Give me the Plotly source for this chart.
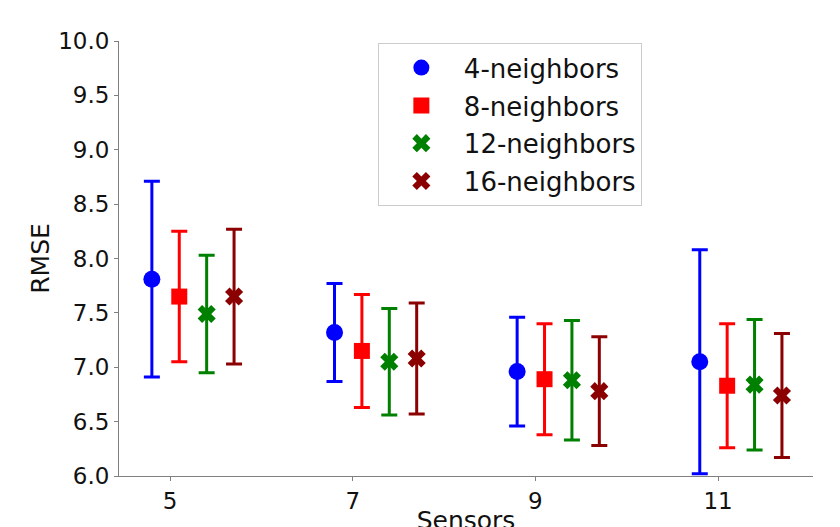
import plotly.graph_objects as go

sensors = [5, 7, 9, 11]
series_names = ["4-neighbors", "8-neighbors", "12-neighbors", "16-neighbors"]
rmse_4 = [7.81, 7.32, 6.96, 7.05]
err_4 = [0.90, 0.45, 0.50, 1.03]
rmse_8 = [7.65, 7.15, 6.89, 6.83]
err_8 = [0.60, 0.52, 0.51, 0.57]
rmse_12 = [7.49, 7.05, 6.88, 6.84]
err_12 = [0.54, 0.49, 0.55, 0.60]
rmse_16 = [7.65, 7.08, 6.78, 6.74]
err_16 = [0.62, 0.51, 0.50, 0.57]
y_ticks = [6.0, 6.5, 7.0, 7.5, 8.0, 8.5, 9.0, 9.5, 10.0]

values = [rmse_4, rmse_8, rmse_12, rmse_16]
errors = [err_4, err_8, err_12, err_16]
colors = ["#0000ff", "#ff0000", "#008000", "#8b0000"]
symbols = ["circle", "square", "x", "x"]
sizes = [17, 16, 16, 16]

FONT = "DejaVu Sans"
fig = go.Figure()
for i, name in enumerate(series_names):
    off = -0.2 + 0.3 * i
    fig.add_trace(go.Scatter(
        x=[s + off for s in sensors], y=values[i], name=name, mode="markers",
        legendgroup=name, showlegend=False,
        marker=dict(color=colors[i], symbol=symbols[i], size=sizes[i], line=dict(width=0)),
        error_y=dict(type="data", array=errors[i], visible=True, color=colors[i],
                     thickness=3, width=8),
    ))
# legend entries (larger legend symbols, as in the reference)
for i, name in enumerate(series_names):
    fig.add_trace(go.Scatter(
        x=[None], y=[None], name=name, mode="markers", legendgroup=name, showlegend=True,
        marker=dict(color=colors[i], symbol=symbols[i], size=22, line=dict(width=0)),
    ))

fig.update_layout(
    width=840, height=527,
    margin=dict(l=111, r=35, t=33, b=59),
    paper_bgcolor="white", plot_bgcolor="white",
    font=dict(family=FONT, color="black", size=23),
    showlegend=True,
    legend=dict(x=0.373, y=0.995, xanchor="left", yanchor="top",
                bgcolor="white", bordercolor="#cccccc", borderwidth=1,
                font=dict(family=FONT, size=26, color="#111111"),
                itemsizing="trace", itemwidth=75, tracegroupgap=1,
                traceorder="grouped"),
    xaxis=dict(range=[4.44, 12.04], tickvals=sensors, ticktext=[str(s) for s in sensors],
               showgrid=False, zeroline=False, showline=True, linecolor="#808080", linewidth=1,
               ticks="outside", ticklen=4, tickcolor="#808080", automargin=False,
               tickfont=dict(family=FONT, size=23, color="#111111"),
               title=dict(text="Sensors", standoff=14, font=dict(family=FONT, size=25, color="#111111"))),
    yaxis=dict(range=[6.0, 10.0], tickvals=y_ticks, ticktext=[f"{v:.1f}" for v in y_ticks],
               showgrid=False, zeroline=False, showline=True, linecolor="#808080", linewidth=1,
               ticks="outside", ticklen=4, tickcolor="#808080", automargin=False,
               tickfont=dict(family=FONT, size=23, color="#111111"),
               title=dict(text="RMSE", standoff=1, font=dict(family=FONT, size=25, color="#111111"))),
)
fig.write_html("out.html")
